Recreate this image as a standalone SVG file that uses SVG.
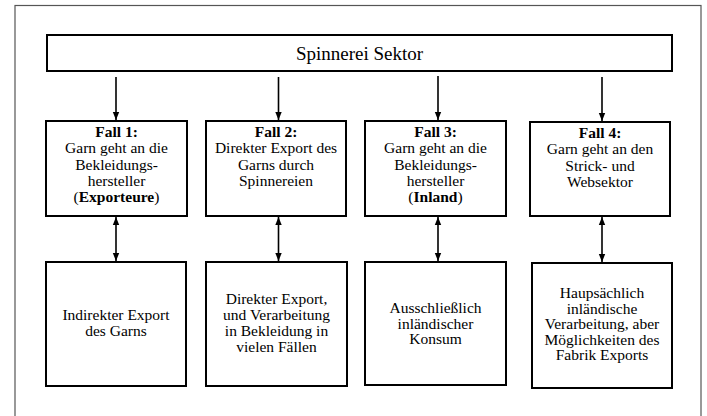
<svg xmlns="http://www.w3.org/2000/svg" width="707" height="416" viewBox="0 0 707 416">
<defs>
<marker id="ah" viewBox="0 0 8 8" refX="8" refY="4" markerWidth="8" markerHeight="8" markerUnits="userSpaceOnUse" orient="auto-start-reverse">
<path d="M0,0.8 L8,4 L0,7.2 Z" fill="#000"/>
</marker>
<style>
.box{fill:#fff;stroke:#000;stroke-width:2}
text{font-family:'Liberation Serif','DejaVu Serif',serif;font-size:15.5px;fill:#000;text-anchor:middle}
.b{font-weight:bold}
.c{stroke:#000;stroke-width:1.6;fill:none}
</style>
</defs>
<rect x="0" y="0" width="707" height="416" fill="#fff"/>
<rect x="15" y="5.5" width="686" height="420" fill="none" stroke="#555" stroke-width="1.2"/>
<g id="top">
<rect class="box" x="47" y="35" width="625" height="36"/>
<text x="359.5" y="59.5" font-family="Liberation Serif, serif" style="font-size:19px">Spinnerei Sektor</text>
</g>
<g id="fall1">
<rect class="box" x="46" y="121" width="141" height="95"/>
<text x="116.5" y="137"><tspan class="b">Fall 1:</tspan><tspan x="116.5" dy="16.3">Garn geht an die</tspan><tspan x="116.5" dy="16.3">Bekleidungs-</tspan><tspan x="116.5" dy="16.3">hersteller</tspan><tspan x="116.5" dy="16.3">(<tspan class="b">Exporteure</tspan>)</tspan></text>
</g>
<g id="fall2">
<rect class="box" x="206" y="121" width="140" height="95"/>
<text x="276" y="137"><tspan class="b">Fall 2:</tspan><tspan x="276" dy="16.3">Direkter Export des</tspan><tspan x="276" dy="16.3">Garns durch</tspan><tspan x="276" dy="16.3">Spinnereien</tspan></text>
</g>
<g id="fall3">
<rect class="box" x="365" y="121" width="141" height="95"/>
<text x="435.5" y="137"><tspan class="b">Fall 3:</tspan><tspan x="435.5" dy="16.3">Garn geht an die</tspan><tspan x="435.5" dy="16.3">Bekleidungs-</tspan><tspan x="435.5" dy="16.3">hersteller</tspan><tspan x="435.5" dy="16.3">(<tspan class="b">Inland</tspan>)</tspan></text>
</g>
<g id="fall4">
<rect class="box" x="530" y="122" width="140" height="94"/>
<text x="600" y="138"><tspan class="b">Fall 4:</tspan><tspan x="600" dy="16.3">Garn geht an den</tspan><tspan x="600" dy="16.3">Strick- und</tspan><tspan x="600" dy="16.3">Websektor</tspan></text>
</g>
<g id="res1">
<rect class="box" x="46" y="262" width="140" height="124"/>
<text x="116" y="320"><tspan x="116">Indirekter Export</tspan><tspan x="116" dy="16">des Garns</tspan></text>
</g>
<g id="res2">
<rect class="box" x="206" y="262" width="141" height="124"/>
<text x="276.5" y="304"><tspan x="276.5">Direkter Export,</tspan><tspan x="276.5" dy="16">und Verarbeitung</tspan><tspan x="276.5" dy="16">in Bekleidung in</tspan><tspan x="276.5" dy="16">vielen Fällen</tspan></text>
</g>
<g id="res3">
<rect class="box" x="365" y="262" width="141" height="123"/>
<text x="435.5" y="313"><tspan x="435.5">Ausschließlich</tspan><tspan x="435.5" dy="15.5">inländischer</tspan><tspan x="435.5" dy="15.5">Konsum</tspan></text>
</g>
<g id="res4">
<rect class="box" x="532" y="263" width="140" height="125"/>
<text x="602" y="298"><tspan x="602">Haupsächlich</tspan><tspan x="602" dy="15.5">inländische</tspan><tspan x="602" dy="15.5">Verarbeitung, aber</tspan><tspan x="602" dy="15.5">Möglichkeiten des</tspan><tspan x="602" dy="15.5">Fabrik Exports</tspan></text>
</g>
<g id="connectors">
<line class="c" x1="116" y1="77" x2="116" y2="120" marker-end="url(#ah)"/>
<line class="c" x1="278.5" y1="77" x2="278.5" y2="120" marker-end="url(#ah)"/>
<line class="c" x1="438" y1="76" x2="438" y2="120" marker-end="url(#ah)"/>
<line class="c" x1="602" y1="77" x2="602" y2="121" marker-end="url(#ah)"/>
<line class="c" x1="116" y1="217" x2="116" y2="261" marker-start="url(#ah)" marker-end="url(#ah)"/>
<line class="c" x1="278.5" y1="217" x2="278.5" y2="261" marker-start="url(#ah)" marker-end="url(#ah)"/>
<line class="c" x1="438" y1="217" x2="438" y2="261" marker-start="url(#ah)" marker-end="url(#ah)"/>
<line class="c" x1="602" y1="217" x2="602" y2="262" marker-start="url(#ah)" marker-end="url(#ah)"/>
</g>
</svg>
